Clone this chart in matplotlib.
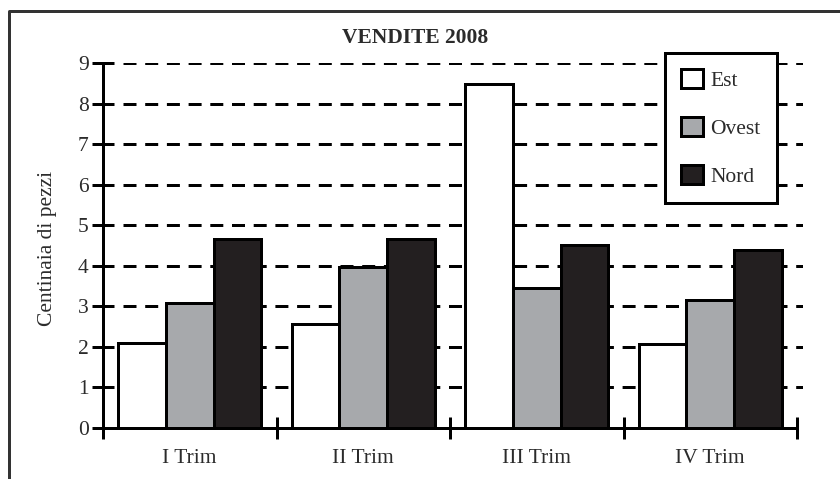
import matplotlib
matplotlib.use('Agg')
import matplotlib.pyplot as plt
from matplotlib.lines import Line2D
import numpy as np

quarters = ['I Trim', 'II Trim', 'III Trim', 'IV Trim']
series = ['Est', 'Ovest', 'Nord']
est = [2.10, 2.55, 8.50, 2.06]
ovest = [3.09, 3.97, 3.44, 3.15]
nord = [4.65, 4.65, 4.52, 4.40]
y_ticks = [0, 1, 2, 3, 4, 5, 6, 7, 8, 9]

colors = ['white', '#a7a9ac', '#231f20']
text_col = '#2b2b2b'
fs = 15.5

plt.rcParams['font.family'] = ['Liberation Serif', 'DejaVu Serif']
plt.rcParams['lines.scale_dashes'] = False

W, H = 840, 479
px = 0.72  # points per pixel at dpi 100

fig = plt.figure(figsize=(W / 100, H / 100), dpi=100)
ax = fig.add_axes([103 / W, 1 - 427.7 / H, 700 / W, (427.7 - 63.3) / H])

group_px = 173.5
x_max = 700 / group_px
ax.set_xlim(0, x_max)
ax.set_ylim(0, 9)

# dashed grid
for y in y_ticks[1:]:
    ax.hlines(y, 20 / group_px, x_max, colors='black', lw=3 * px,
              linestyles=[(0, (13 * px, 8.7 * px))], zorder=1)

bw = 0.274
centers = np.arange(len(quarters)) + 0.5
for k, (name, vals) in enumerate(zip(series, [est, ovest, nord])):
    ax.bar(centers + (k - 1) * bw, vals, width=bw, color=colors[k],
           edgecolor='black', linewidth=3 * px, label=name, zorder=3)

for s in ['top', 'right']:
    ax.spines[s].set_visible(False)
ax.spines['left'].set_linewidth(3 * px)
ax.spines['bottom'].set_linewidth(3 * px)
ax.spines['bottom'].set_bounds(0, 4)
ax.spines['left'].set_zorder(4)
ax.spines['bottom'].set_zorder(4)

ax.set_yticks(y_ticks)
ax.tick_params(axis='y', direction='inout', length=23 * px, width=3 * px,
               labelsize=fs, labelcolor=text_col, pad=2)
ax.set_xticks([0, 1, 2, 3, 4])
ax.set_xticklabels([])
ax.tick_params(axis='x', which='major', direction='inout', length=22 * px, width=3 * px)
ax.set_xticks(centers, minor=True)
ax.set_xticklabels(quarters, minor=True)
ax.tick_params(axis='x', which='minor', length=0, labelsize=fs,
               labelcolor=text_col, pad=15)

fig.text(47.5 / W, 1 - 248.5 / H, 'Centinaia di pezzi', rotation=90,
         ha='center', va='center', fontsize=fs, color=text_col)
fig.text(415 / W, 1 - 38 / H, 'VENDITE 2008', ha='center', va='center',
         fontsize=fs, weight='bold', color=text_col)

leg = ax.legend(loc='upper left', bbox_to_anchor=(665 / W, 1 - 53 / H),
                bbox_transform=fig.transFigure, fontsize=fs, frameon=True,
                fancybox=False, framealpha=1, edgecolor='black',
                handlelength=1.0, handleheight=1.0, handletextpad=0.35,
                labelspacing=1.2, borderpad=0.75, borderaxespad=0)
leg.get_frame().set_linewidth(3 * px)
for t in leg.get_texts():
    t.set_color(text_col)
leg.set_zorder(5)

# outer frame
fig.add_artist(Line2D([9 / W, 9 / W, 1.01], [-0.01, 1 - 11 / H, 1 - 11 / H],
                      color='#333333', lw=3 * px))

fig.savefig('out.png', dpi=100)
